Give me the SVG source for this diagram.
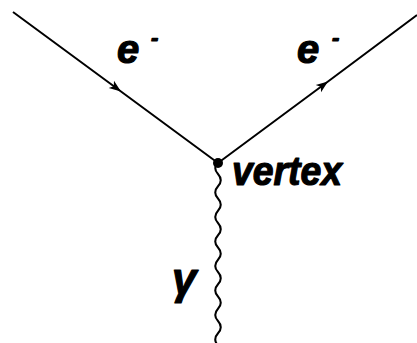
<svg xmlns="http://www.w3.org/2000/svg" width="417" height="343" viewBox="0 0 417 343">
<style>
.fermion{fill:none;stroke:#000;stroke-width:2}
.photon{fill:none;stroke:#000;stroke-width:2}
.lbl{font-family:"Liberation Sans",Arial,sans-serif;font-weight:bold;font-style:italic;fill:#000;stroke:#000;stroke-width:1.2;stroke-linejoin:round}
</style>
<defs>
<marker id="arr" markerWidth="16" markerHeight="12" refX="12" refY="6" orient="auto" markerUnits="userSpaceOnUse">
<path d="M0,1.5 L12,6 L0,10.5 L3,6 Z" fill="#000"/>
</marker>
</defs>
<rect width="417" height="343" fill="#fff"/>
<g id="connectors">
<path id="e-in" class="fermion" d="M13,12 L121,91.5 L218,163" marker-mid="url(#arr)"/>
<path id="e-out" class="fermion" d="M218,163 L328,81.5 L417,15" marker-mid="url(#arr)"/>
<path id="photon" class="photon" d="M218,161.75 q-5.5,6.125 0,12.25 t0,12.25 t0,12.25 t0,12.25 t0,12.25 t0,12.25 t0,12.25 t0,12.25 t0,12.25 t0,12.25 t0,12.25 t0,12.25 t0,12.25 t0,12.25 t0,12.25"/>
</g>
<g id="vertex">
<circle cx="218" cy="163" r="5" fill="#000"/>
<text class="lbl" x="232" y="185" font-size="40" textLength="110" lengthAdjust="spacingAndGlyphs">vertex</text>
</g>
<g id="label-e-in">
<text class="lbl" x="117" y="63" font-size="40">e</text>
<text class="lbl" x="151" y="45" font-size="22">-</text>
</g>
<g id="label-e-out">
<text class="lbl" x="297" y="63" font-size="40">e</text>
<text class="lbl" x="332" y="45" font-size="22">-</text>
</g>
<g id="label-gamma">
<text class="lbl" x="172" y="294" font-size="44">γ</text>
</g>
</svg>
